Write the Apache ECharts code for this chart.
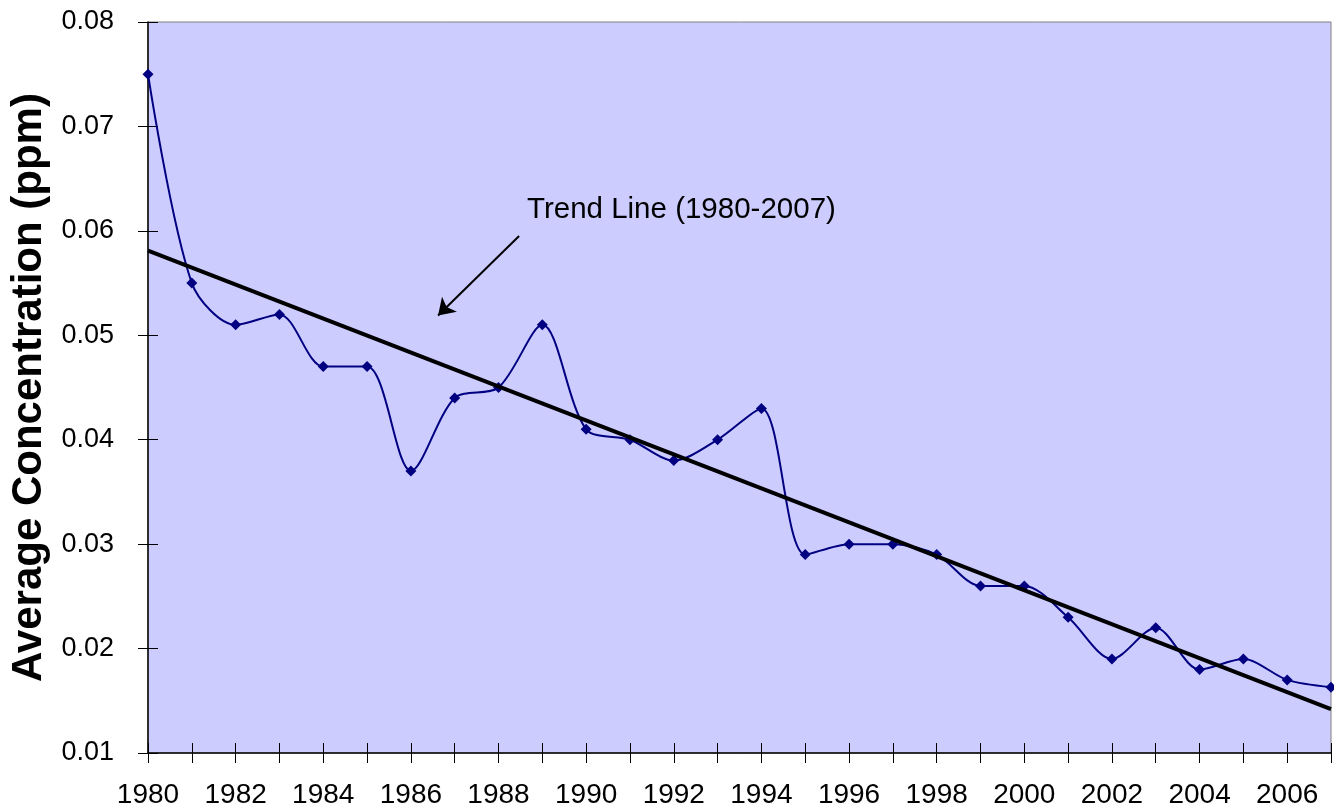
<!DOCTYPE html>
<html>
<head>
<meta charset="utf-8">
<script src="https://cdn.jsdelivr.net/npm/echarts@6/dist/echarts.min.js"></script>
<style>
html,body{margin:0;padding:0;background:#fff;}
#main{width:1334px;height:809px;}
</style>
</head>
<body>
<div id="main"></div>
<script>
var unChart = echarts.init(document.getElementById("main"));

// annual average concentration
var years = [1980,1981,1982,1983,1984,1985,1986,1987,1988,1989,1990,1991,1992,1993,
	1994,1995,1996,1997,1998,1999,2000,2001,2002,2003,2004,2005,2006,2007];
var conc = [0.075,0.055,0.051,0.052,0.047,0.047,0.037,0.044,0.045,0.051,0.041,0.040,0.038,0.040,
	0.043,0.029,0.030,0.030,0.029,0.026,0.026,0.023,0.019,0.022,0.018,0.019,0.017,0.0163];
// trend line end points (1980 and 2007)
var trendYears = [1980, 2007];
var trendVals = [0.0581, 0.0142];
// arrow of the note, in data units
var arrowFrom = [1988.47, 0.0595];
var arrowTo = [1986.62, 0.0519];
var noteText = 'Trend Line (1980-2007)';

var pts = [];
for(var i=0;i<years.length;i++){
	pts.push([years[i], conc[i]]);
}
var trend = [];
for(var i=0;i<trendYears.length;i++){
	trend.push([trendYears[i], trendVals[i]]);
}

var fnt = 'Arial, "Liberation Sans", sans-serif';

var options={
	animation:false,
	grid:{
		left:148, right:0, top:22, bottom:55,
		show:true,
		backgroundColor:'#CCCCFF',
		borderColor:'#808080',
		borderWidth:1
	},
	xAxis:[{
		type:'value',
		min:1980, max:2007, interval:1,
		splitLine:{show:false},
		axisLine:{lineStyle:{color:'#000', width:1.5}},
		axisTick:{length:10, lineStyle:{color:'#000'}},
		axisLabel:{
			margin:28, color:'#000', fontSize:28, fontFamily:fnt,
			formatter:function(v){ return v%2===0 ? String(v) : ''; }
		}
	},{
		// ticks running into the plot
		type:'value',
		position:'bottom',
		min:1980, max:2007, interval:1,
		splitLine:{show:false},
		axisLine:{show:false},
		axisTick:{inside:true, length:10, lineStyle:{color:'#000'}},
		axisLabel:{show:false}
	}],
	yAxis:[{
		type:'value',
		min:0.01, max:0.08, interval:0.01,
		name:'Average Concentration (ppm)',
		nameLocation:'middle',
		nameGap:96,
		nameTextStyle:{fontSize:42, fontWeight:'bold', color:'#000', fontFamily:fnt},
		splitLine:{show:false},
		axisLine:{lineStyle:{color:'#000', width:1.5}},
		axisTick:{length:10, lineStyle:{color:'#000'}},
		axisLabel:{
			margin:34, color:'#000', fontSize:27, fontFamily:fnt,
			formatter:function(v){ return v.toFixed(2); }
		}
	},{
		type:'value',
		position:'left',
		min:0.01, max:0.08, interval:0.01,
		splitLine:{show:false},
		axisLine:{show:false},
		axisTick:{inside:true, length:10, lineStyle:{color:'#000'}},
		axisLabel:{show:false}
	}],
	graphic:[{
		type:'text',
		left:527, top:195,
		style:{text:noteText, fill:'#000', fontSize:29.5, fontFamily:fnt}
	}],
	series:[{
		type:'line',
		data:pts,
		smooth:0.3,
		symbol:'diamond',
		symbolSize:11,
		itemStyle:{color:'#000080'},
		lineStyle:{color:'#000080', width:2},
		z:3
	},{
		type:'line',
		data:trend,
		symbol:'none',
		lineStyle:{color:'#000', width:4},
		z:4,
		markLine:{
			silent:true,
			symbol:['none','arrow'],
			symbolSize:16,
			label:{show:false},
			lineStyle:{color:'#000', width:2, type:'solid'},
			data:[[{coord:arrowFrom},{coord:arrowTo}]]
		}
	}]
};
unChart.setOption(options);
</script>
</body>
</html>
